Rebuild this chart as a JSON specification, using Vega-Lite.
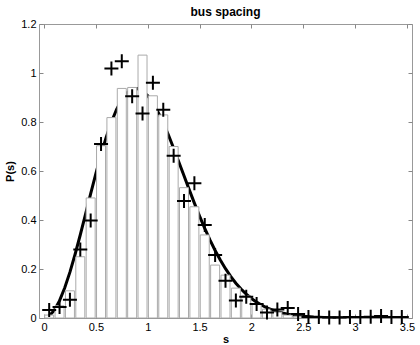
{
  "$schema": "https://vega.github.io/schema/vega-lite/v6.json",
  "width": 373,
  "height": 294,
  "autosize": {"type": "none"},
  "padding": {"left": 39, "top": 24, "right": 8, "bottom": 27},
  "title": {"text": "bus spacing", "font": "Liberation Sans", "fontSize": 12, "fontWeight": "bold", "color": "black", "offset": -1},
  "config": {
    "view": {"stroke": "#999999", "strokeWidth": 1},
    "axis": {
      "labelFont": "Liberation Sans", "labelFontSize": 11, "labelColor": "black", "labelFlush": false, "labelOverlap": false,
      "titleFont": "Liberation Sans", "titleFontSize": 11, "titleFontWeight": "bold", "titleColor": "black",
      "domain": false, "grid": false, "tickColor": "#888888", "tickSize": -4, "labelPadding": 7, "format": "~g"
    }
  },
  "datasets": {
    "curve": [
      {"s": 0.05, "p": 0.00808}, {"s": 0.1, "p": 0.03201}, {"s": 0.15, "p": 0.07089}, {"s": 0.2, "p": 0.12325},
      {"s": 0.25, "p": 0.18714}, {"s": 0.3, "p": 0.26021}, {"s": 0.35, "p": 0.33982}, {"s": 0.4, "p": 0.42315},
      {"s": 0.45, "p": 0.50734}, {"s": 0.5, "p": 0.58958}, {"s": 0.55, "p": 0.66726}, {"s": 0.6, "p": 0.73803},
      {"s": 0.65, "p": 0.79999}, {"s": 0.7, "p": 0.85138}, {"s": 0.75, "p": 0.89117}, {"s": 0.8, "p": 0.91863},
      {"s": 0.85, "p": 0.93365}, {"s": 0.9, "p": 0.93639}, {"s": 0.95, "p": 0.92736}, {"s": 1.0, "p": 0.90758},
      {"s": 1.05, "p": 0.87817}, {"s": 1.1, "p": 0.84054}, {"s": 1.15, "p": 0.79605}, {"s": 1.2, "p": 0.74646},
      {"s": 1.25, "p": 0.69289}, {"s": 1.3, "p": 0.63704}, {"s": 1.35, "p": 0.58033}, {"s": 1.4, "p": 0.52402},
      {"s": 1.45, "p": 0.4688}, {"s": 1.5, "p": 0.41575}, {"s": 1.55, "p": 0.36557}, {"s": 1.6, "p": 0.31881},
      {"s": 1.65, "p": 0.27567}, {"s": 1.7, "p": 0.2365}, {"s": 1.75, "p": 0.20117}, {"s": 1.8, "p": 0.16976},
      {"s": 1.85, "p": 0.14215}, {"s": 1.9, "p": 0.1181}, {"s": 1.95, "p": 0.09731}, {"s": 2.0, "p": 0.07962},
      {"s": 2.05, "p": 0.06465}, {"s": 2.1, "p": 0.0521}, {"s": 2.15, "p": 0.04165}, {"s": 2.2, "p": 0.03306},
      {"s": 2.25, "p": 0.02605}, {"s": 2.3, "p": 0.02038}, {"s": 2.35, "p": 0.01583}, {"s": 2.4, "p": 0.0122},
      {"s": 2.45, "p": 0.00934}, {"s": 2.5, "p": 0.00709}, {"s": 2.6, "p": 0.00401}, {"s": 2.7, "p": 0.0022},
      {"s": 2.8, "p": 0.00117}, {"s": 2.9, "p": 0.00061}, {"s": 3.0, "p": 0.00031}, {"s": 3.2, "p": 0.0001},
      {"s": 3.5, "p": 0.00001}
    ],
    "bars": [
      {"s": 0.05, "p": 0.012}, {"s": 0.15, "p": 0.05}, {"s": 0.25, "p": 0.111}, {"s": 0.35, "p": 0.25},
      {"s": 0.45, "p": 0.49}, {"s": 0.55, "p": 0.703}, {"s": 0.65, "p": 0.818}, {"s": 0.75, "p": 0.937},
      {"s": 0.85, "p": 0.941}, {"s": 0.95, "p": 1.073}, {"s": 1.05, "p": 0.907}, {"s": 1.15, "p": 0.829},
      {"s": 1.25, "p": 0.7}, {"s": 1.35, "p": 0.532}, {"s": 1.45, "p": 0.454}, {"s": 1.55, "p": 0.339},
      {"s": 1.65, "p": 0.216}, {"s": 1.75, "p": 0.175}, {"s": 1.85, "p": 0.122}, {"s": 1.95, "p": 0.09},
      {"s": 2.05, "p": 0.058}, {"s": 2.15, "p": 0.036}, {"s": 2.25, "p": 0.024}, {"s": 2.35, "p": 0.012},
      {"s": 2.45, "p": 0.007}, {"s": 2.55, "p": 0.004}, {"s": 2.65, "p": 0.003}, {"s": 2.75, "p": 0.002},
      {"s": 2.85, "p": 0.002}, {"s": 2.95, "p": 0.001}
    ],
    "points": [
      {"s": 0.05, "p": 0.033}, {"s": 0.15, "p": 0.045}, {"s": 0.25, "p": 0.074}, {"s": 0.35, "p": 0.28},
      {"s": 0.45, "p": 0.398}, {"s": 0.55, "p": 0.71}, {"s": 0.65, "p": 1.018}, {"s": 0.75, "p": 1.048},
      {"s": 0.85, "p": 0.905}, {"s": 0.95, "p": 0.835}, {"s": 1.05, "p": 0.96}, {"s": 1.15, "p": 0.85},
      {"s": 1.25, "p": 0.662}, {"s": 1.35, "p": 0.478}, {"s": 1.45, "p": 0.55}, {"s": 1.55, "p": 0.38},
      {"s": 1.65, "p": 0.257}, {"s": 1.75, "p": 0.152}, {"s": 1.85, "p": 0.071}, {"s": 1.95, "p": 0.087},
      {"s": 2.05, "p": 0.057}, {"s": 2.15, "p": 0.022}, {"s": 2.25, "p": 0.035}, {"s": 2.35, "p": 0.041},
      {"s": 2.45, "p": 0.016}, {"s": 2.55, "p": 0.004}, {"s": 2.65, "p": 0.004}, {"s": 2.75, "p": 0.002},
      {"s": 2.85, "p": 0.002}, {"s": 2.95, "p": 0.004}, {"s": 3.05, "p": 0.004}, {"s": 3.15, "p": 0.005},
      {"s": 3.25, "p": 0.008}, {"s": 3.35, "p": 0.004}, {"s": 3.45, "p": 0.004}
    ]
  },
  "resolve": {"axis": {"x": "independent", "y": "independent"}},
  "layer": [
    {
      "data": {"name": "curve"},
      "mark": {"type": "line", "color": "black", "strokeWidth": 3, "clip": true},
      "encoding": {
        "x": {"field": "s", "type": "quantitative", "scale": {"domain": [0, 3.5], "nice": false},
              "axis": {"values": [0, 0.5, 1, 1.5, 2, 2.5, 3, 3.5], "title": "s", "titlePadding": 1}},
        "y": {"field": "p", "type": "quantitative", "scale": {"domain": [0, 1.2], "nice": false},
              "axis": {"values": [0, 0.2, 0.4, 0.6, 0.8, 1, 1.2], "title": "P(s)", "titlePadding": 5}}
      }
    },
    {
      "data": {"name": "bars"},
      "mark": {"type": "bar", "fill": "white", "stroke": "#aaaaaa", "strokeWidth": 1, "size": 9, "clip": true},
      "encoding": {
        "x": {"field": "s", "type": "quantitative",
              "axis": {"orient": "top", "values": [0, 0.5, 1, 1.5, 2, 2.5, 3, 3.5], "labels": false, "title": null}},
        "y": {"field": "p", "type": "quantitative",
              "axis": {"orient": "right", "values": [0, 0.2, 0.4, 0.6, 0.8, 1, 1.2], "labels": false, "title": null}}
      }
    },
    {
      "data": {"name": "points"},
      "mark": {"type": "point", "shape": "M-1,0H1M0,-1V1", "size": 196, "stroke": "black", "strokeWidth": 2, "filled": false, "opacity": 1},
      "encoding": {
        "x": {"field": "s", "type": "quantitative", "axis": null},
        "y": {"field": "p", "type": "quantitative", "axis": null}
      }
    }
  ]
}
